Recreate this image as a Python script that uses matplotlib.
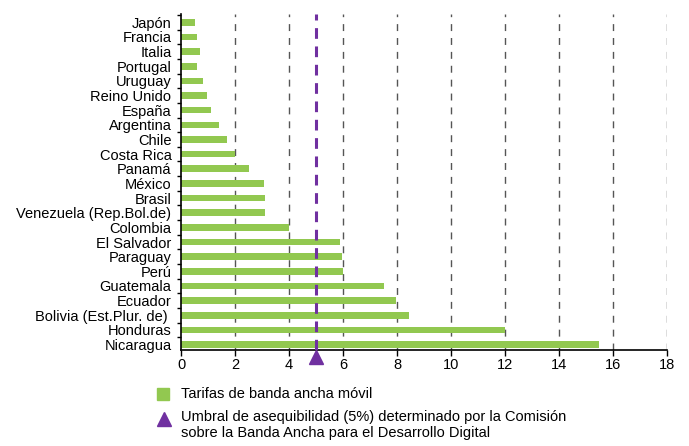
import matplotlib
matplotlib.use("Agg")
import matplotlib.pyplot as plt
from matplotlib.lines import Line2D
from matplotlib.patches import Rectangle
from matplotlib.transforms import offset_copy

plt.rcParams['font.family'] = ['Liberation Sans', 'DejaVu Sans']

# datos
paises = ["Japón", "Francia", "Italia", "Portugal", "Uruguay", "Reino Unido",
          "España", "Argentina", "Chile", "Costa Rica", "Panamá", "México",
          "Brasil", "Venezuela (Rep.Bol.de)", "Colombia", "El Salvador",
          "Paraguay", "Perú", "Guatemala", "Ecuador", "Bolivia (Est.Plur. de) ",
          "Honduras", "Nicaragua"]
tarifas = [0.5, 0.6, 0.7, 0.6, 0.8, 0.95, 1.1, 1.4, 1.7, 2.0, 2.5, 3.05,
           3.1, 3.1, 4.0, 5.9, 5.97, 6.0, 7.5, 7.95, 8.45, 12.0, 15.5]
umbral = 5
xticks = [0, 2, 4, 6, 8, 10, 12, 14, 16, 18]

verde = "#92c850"
morado = "#7030a0"

fig = plt.figure(figsize=(6.89, 4.46), dpi=100)
ax = fig.add_axes([0.263, 0.216, 0.705, 0.752])

y = list(range(len(paises)))
ax.barh(y, tarifas, height=0.45, color=verde, zorder=2)

for t in xticks[1:]:
    ax.axvline(t, color="#555555", lw=1, ls=(0, (5, 5)), zorder=1)
ax.axvline(umbral, color=morado, lw=2.2, ls=(0, (3.5, 2.5)), zorder=3)
ybot = len(paises) - 0.65
tri = offset_copy(ax.transData, fig=fig, x=0, y=-5, units="points")
ax.plot([umbral], [ybot], marker="^", color=morado, ms=10,
        clip_on=False, zorder=4, transform=tri)

ax.set_xlim(0, 18)
ax.set_ylim(ybot, -0.55)
ax.set_xticks(xticks)
ax.set_yticks([i + 0.5 for i in range(-1, len(paises) - 1)], minor=False)
ax.set_yticklabels([])
ax.set_yticks(y, minor=True)
ax.set_yticklabels(paises, minor=True, fontsize=10.5)
ax.tick_params(axis="y", which="minor", length=0, pad=7)
ax.tick_params(axis="y", which="major", length=3, width=1)
ax.tick_params(axis="x", length=4, width=1, labelsize=10.5, pad=2)

for s in ["top", "right"]:
    ax.spines[s].set_visible(False)
ax.spines["left"].set_linewidth(1.2)
ax.spines["bottom"].set_linewidth(1.2)

# leyenda
fig.add_artist(Rectangle((0.228, 0.103), 0.017, 0.026, color=verde,
                         transform=fig.transFigure))
fig.text(0.263, 0.116, "Tarifas de banda ancha móvil", fontsize=10.5,
         va="center", ha="left")
fig.add_artist(Line2D([0.2385], [0.061], marker="^", color=morado, ms=10,
                      transform=fig.transFigure))
fig.text(0.263, 0.081,
         "Umbral de asequibilidad (5%) determinado por la Comisión\n"
         "sobre la Banda Ancha para el Desarrollo Digital",
         fontsize=10.5, va="top", ha="left", linespacing=1.15,
         transform=fig.transFigure)

fig.savefig("out.png", dpi=100)
